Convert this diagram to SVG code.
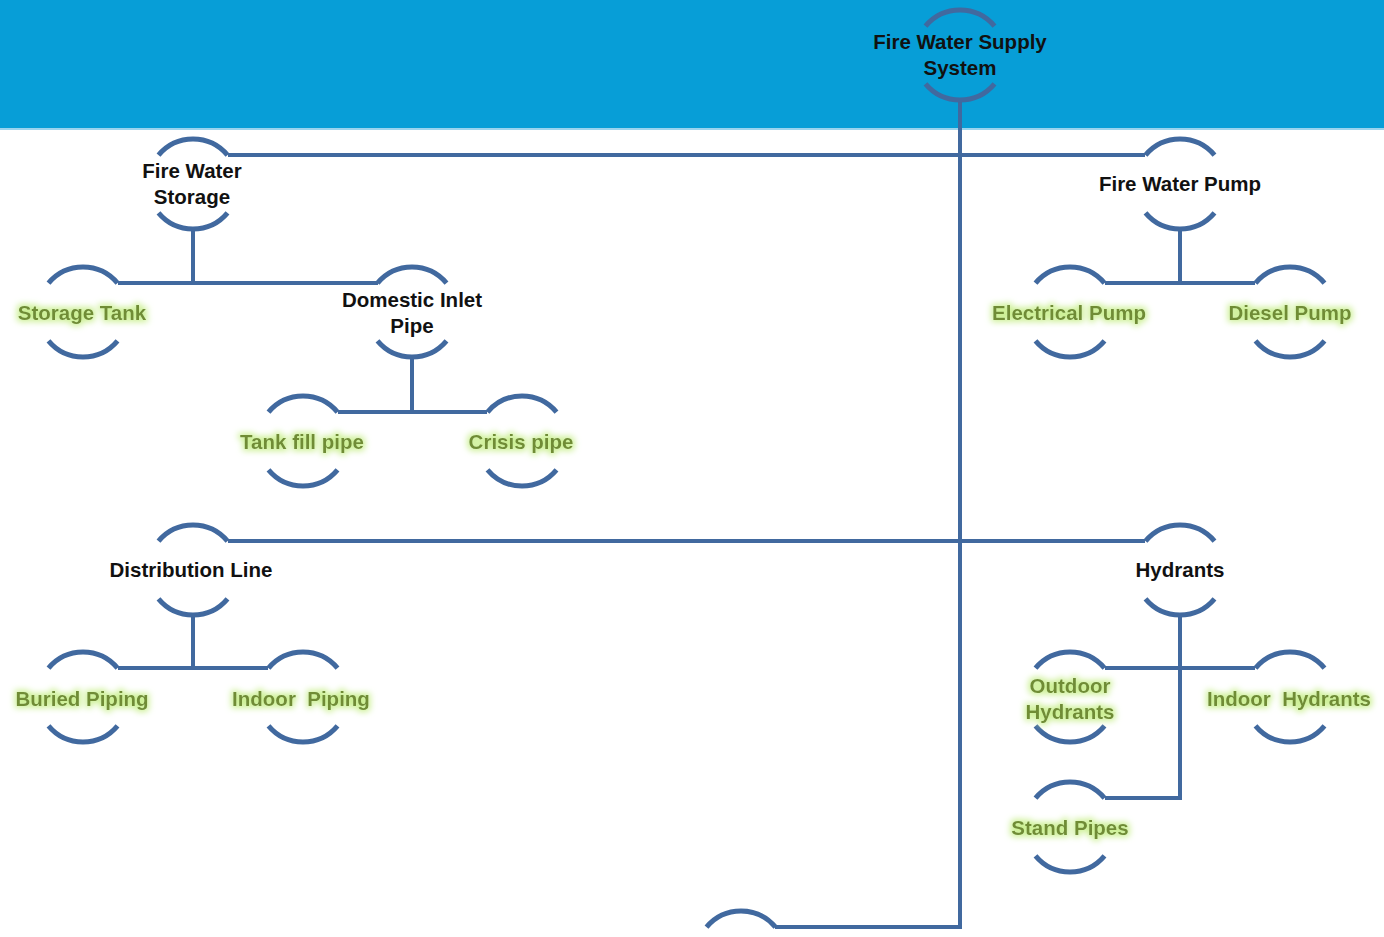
<svg xmlns="http://www.w3.org/2000/svg" xmlns:xlink="http://www.w3.org/1999/xlink" width="1384" height="937" viewBox="0 0 1384 937">
<style>
.arc{fill:none;stroke:#41699f;stroke-width:5}
.con{fill:none;stroke:#41699f;stroke-width:4}
.t{font-family:"Liberation Sans",Arial,sans-serif;font-weight:bold;font-size:20.5px;text-anchor:middle;white-space:pre}
.k{fill:#111111}
.g{fill:#6f8c36;filter:url(#glow)}
</style>
<defs>
<filter id="glow" x="-20%" y="-50%" width="140%" height="200%">
<feMorphology in="SourceAlpha" operator="dilate" radius="2" result="d"/>
<feGaussianBlur in="d" stdDeviation="3" result="b"/>
<feFlood flood-color="#cdf096"/>
<feComposite in2="b" operator="in" result="gl"/>
<feMerge><feMergeNode in="gl"/><feMergeNode in="SourceGraphic"/></feMerge>
</filter>
<g id="ring">
<path class="arc" d="M-34.5,-28.9 A45,45 0 0 1 34.5,-28.9"/>
<path class="arc" d="M-34.5,28.9 A45,45 0 0 0 34.5,28.9"/>
</g>
</defs>
<rect x="0" y="0" width="1384" height="128" fill="#079ed7"/>
<rect x="0" y="128" width="1384" height="2" fill="#9ad4ee"/>
<g id="connectors">
<path class="con" d="M960,100 V927 H775"/>
<path class="con" d="M228,155 H1145"/>
<path class="con" d="M193,229 V283"/>
<path class="con" d="M118,283 H378"/>
<path class="con" d="M412,357 V412"/>
<path class="con" d="M338,412 H487"/>
<path class="con" d="M1180,229 V283"/>
<path class="con" d="M1105,283 H1255"/>
<path class="con" d="M228,541 H1145"/>
<path class="con" d="M193,615 V668"/>
<path class="con" d="M118,668 H268"/>
<path class="con" d="M1180,615 V798 H1105"/>
<path class="con" d="M1105,668 H1255"/>
</g>
<g id="n-root"><use xlink:href="#ring" href="#ring" x="960" y="55"/><text class="t k" x="960" y="49">Fire Water Supply</text><text class="t k" x="960" y="75">System</text></g>
<g id="n-storage"><use xlink:href="#ring" href="#ring" x="193" y="184"/><text class="t k" x="192" y="178">Fire Water</text><text class="t k" x="192" y="204">Storage</text></g>
<g id="n-pump"><use xlink:href="#ring" href="#ring" x="1180" y="184"/><text class="t k" x="1180" y="191">Fire Water Pump</text></g>
<g id="n-tank"><use xlink:href="#ring" href="#ring" x="83" y="312"/><text class="t g" x="82" y="320">Storage Tank</text></g>
<g id="n-inlet"><use xlink:href="#ring" href="#ring" x="412" y="312"/><text class="t k" x="412" y="307">Domestic Inlet</text><text class="t k" x="412" y="333">Pipe</text></g>
<g id="n-elec"><use xlink:href="#ring" href="#ring" x="1070" y="312"/><text class="t g" x="1069" y="320">Electrical Pump</text></g>
<g id="n-diesel"><use xlink:href="#ring" href="#ring" x="1290" y="312"/><text class="t g" x="1290" y="320">Diesel Pump</text></g>
<g id="n-tankfill"><use xlink:href="#ring" href="#ring" x="303" y="441"/><text class="t g" x="302" y="449">Tank fill pipe</text></g>
<g id="n-crisis"><use xlink:href="#ring" href="#ring" x="522" y="441"/><text class="t g" x="521" y="449">Crisis pipe</text></g>
<g id="n-dist"><use xlink:href="#ring" href="#ring" x="193" y="570"/><text class="t k" x="191" y="577">Distribution Line</text></g>
<g id="n-hydrants"><use xlink:href="#ring" href="#ring" x="1180" y="570"/><text class="t k" x="1180" y="577">Hydrants</text></g>
<g id="n-buried"><use xlink:href="#ring" href="#ring" x="83" y="697"/><text class="t g" x="82" y="706">Buried Piping</text></g>
<g id="n-indoorpiping"><use xlink:href="#ring" href="#ring" x="303" y="697"/><text class="t g" x="301" y="706">Indoor  Piping</text></g>
<g id="n-outdoor"><use xlink:href="#ring" href="#ring" x="1070" y="697"/><text class="t g" x="1070" y="693">Outdoor</text><text class="t g" x="1070" y="719">Hydrants</text></g>
<g id="n-indoorhyd"><use xlink:href="#ring" href="#ring" x="1290" y="697"/><text class="t g" x="1289" y="706">Indoor  Hydrants</text></g>
<g id="n-stand"><use xlink:href="#ring" href="#ring" x="1070" y="827"/><text class="t g" x="1070" y="835">Stand Pipes</text></g>
<g id="n-bottom"><use xlink:href="#ring" href="#ring" x="741" y="956"/></g>
</svg>
